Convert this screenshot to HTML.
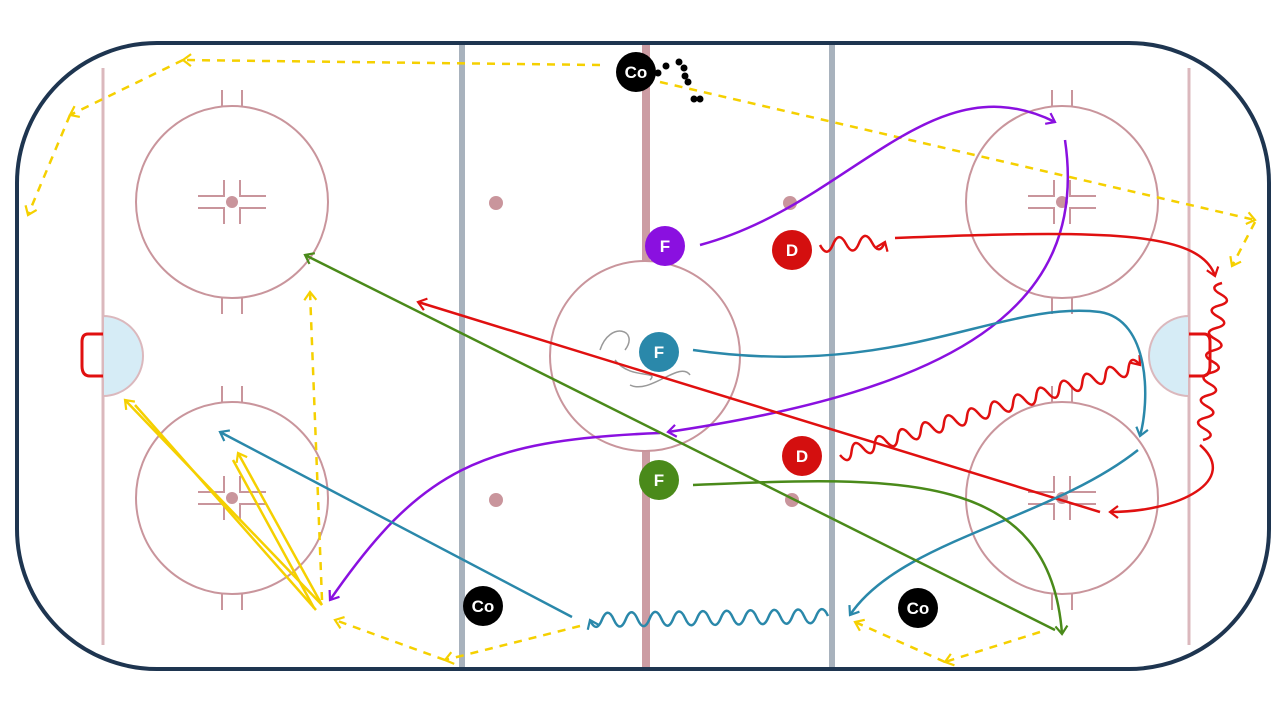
<!DOCTYPE html>
<html><head><meta charset="utf-8"><style>
html,body{margin:0;padding:0;background:#fff;width:1280px;height:720px;overflow:hidden}
text{font-family:"Liberation Sans",sans-serif;font-weight:bold;fill:#fff;text-anchor:middle}
</style></head><body>
<svg id="s" width="1280" height="720" viewBox="0 0 1280 720" xmlns="http://www.w3.org/2000/svg">
<defs>
<marker id="ap" markerWidth="14" markerHeight="14" refX="10" refY="7" orient="auto" markerUnits="userSpaceOnUse"><path d="M2,1 L10,7 L2,13" fill="none" stroke="#8a10e0" stroke-width="2.2"/></marker>
<marker id="ar" markerWidth="14" markerHeight="14" refX="10" refY="7" orient="auto" markerUnits="userSpaceOnUse"><path d="M2,1 L10,7 L2,13" fill="none" stroke="#e01010" stroke-width="2.2"/></marker>
<marker id="at" markerWidth="14" markerHeight="14" refX="10" refY="7" orient="auto" markerUnits="userSpaceOnUse"><path d="M2,1 L10,7 L2,13" fill="none" stroke="#2a88aa" stroke-width="2.2"/></marker>
<marker id="ag" markerWidth="14" markerHeight="14" refX="10" refY="7" orient="auto" markerUnits="userSpaceOnUse"><path d="M2,1 L10,7 L2,13" fill="none" stroke="#4a8a1a" stroke-width="2.2"/></marker>
<marker id="ay" markerWidth="14" markerHeight="14" refX="10" refY="7" orient="auto" markerUnits="userSpaceOnUse"><path d="M2,1 L10,7 L2,13" fill="none" stroke="#f5d000" stroke-width="2.2"/></marker>
</defs>
<rect x="17" y="43" width="1252" height="626" rx="140" fill="#fff" stroke="#1e3550" stroke-width="4"/>
<line x1="103" y1="68" x2="103" y2="645" stroke="#dbb8bd" stroke-width="3"/>
<line x1="1189" y1="68" x2="1189" y2="645" stroke="#dbb8bd" stroke-width="3"/>
<line x1="462" y1="45" x2="462" y2="667" stroke="#a8b2bd" stroke-width="6"/>
<line x1="832" y1="45" x2="832" y2="667" stroke="#a8b2bd" stroke-width="6"/>
<line x1="646" y1="45" x2="646" y2="667" stroke="#cc9ca3" stroke-width="8"/>
<path d="M103,316 A40,40 0 0 1 103,396 Z" fill="#d6ecf6" stroke="#dbb8bd" stroke-width="2"/>
<path d="M1189,316 A40,40 0 0 0 1189,396 Z" fill="#d6ecf6" stroke="#dbb8bd" stroke-width="2"/>
<path d="M103,334 H88 Q82,334 82,342 V366 Q82,376 90,376 H103" fill="none" stroke="#e01010" stroke-width="3"/>
<path d="M1189,334 H1204 Q1210,334 1210,342 V366 Q1210,376 1202,376 H1189" fill="none" stroke="#e01010" stroke-width="3"/>
<g id="circles" fill="none" stroke="#c9959c" stroke-width="2"></g>
<circle cx="645" cy="356" r="95" fill="#fff" stroke="#c9959c" stroke-width="2"/>
<g fill="#c9959c"><circle cx="496" cy="203" r="7"/><circle cx="790" cy="203" r="7"/><circle cx="496" cy="500" r="7"/><circle cx="792" cy="500" r="7"/></g>
<path d="M600,350 C610,320 640,330 625,350 M615,360 C630,380 660,370 650,380 M630,385 C650,395 680,360 690,375" fill="none" stroke="#999" stroke-width="1.5"/>
<g id="lines" fill="none" stroke-width="2.5"></g>
<g id="players"></g>
</svg>
<script>
const NS="http://www.w3.org/2000/svg";
function el(p,tag,a){const e=document.createElementNS(NS,tag);for(const k in a)e.setAttribute(k,a[k]);document.getElementById(p).appendChild(e);return e;}
[[232,202],[232,498],[1062,202],[1062,498]].forEach(([x,y])=>{
 el('circles','circle',{cx:x,cy:y,r:96});
 let d=`M${x-10},${y-95} V${y-112} M${x+10},${y-95} V${y-112} M${x-10},${y+95} V${y+112} M${x+10},${y+95} V${y+112} `;
 [[-1,-1],[1,-1],[-1,1],[1,1]].forEach(([sx,sy])=>{d+=`M${x+sx*34},${y+sy*6} H${x+sx*8} V${y+sy*22} `;});
 el('circles','path',{d});
 el('circles','circle',{cx:x,cy:y,r:6,fill:'#c9959c',stroke:'none'});
});
function wave(x1,y1,x2,y2,amp,wl){const dx=x2-x1,dy=y2-y1,L=Math.hypot(dx,dy),ux=dx/L,uy=dy/L,nx=-uy,ny=ux;let d=`M${x1},${y1}`;const n=Math.max(1,Math.round(L/wl));for(let i=0;i<n;i++){const s=L*(i+0.5)/n,e=L*(i+1)/n,sg=i%2?-1:1;d+=` Q${x1+ux*s+nx*amp*sg*2},${y1+uy*s+ny*amp*sg*2} ${x1+ux*e},${y1+uy*e}`;}return d;}
const C={p:'#8a10e0',r:'#e01010',t:'#2a88aa',g:'#4a8a1a',y:'#f5d000'};
function L(d,c,dash,arrow=true){const a={d,stroke:C[c]};if(dash)a['stroke-dasharray']='8 7';if(arrow)a['marker-end']=`url(#a${c})`;el('lines','path',a);}
L('M600,65 L183,60','y',1);
L('M183,60 L70,115','y',1);
L('M70,115 L28,215','y',1);
L('M660,82 L1255,220','y',1);
L('M1255,222 L1232,266','y',1);
L('M322,600 L310,292','y',1);
L('M580,626 L445,660','y',1);
L('M445,660 L335,620','y',1);
L('M1040,632 L945,662','y',1);
L('M945,662 L855,622','y',1);
L('M322,605 L125,400','y',0);L('M316,610 L135,405','y',0,false);
L('M322,605 L238,453','y',0);L('M314,608 L233,460','y',0,false);
L('M700,245 C850,205 930,60 1055,122','p');
L('M1065,140 C1090,310 950,390 668,432','p');
L('M660,433 C480,440 420,470 330,600','p');
L(wave(820,245,885,242,7,13),'r');
L('M895,238 C1100,230 1200,230 1215,276','r');
L(wave(1222,283,1203,440,7,11),'r',0,false);
L('M1200,445 C1240,480 1180,512 1110,512','r');
L('M1100,512 L418,302','r');
L(wave(840,455,1140,365,7,12),'r');
L('M693,350 C900,380 1000,300 1100,312 C1150,320 1150,400 1140,436','t');
L('M1138,450 C1050,520 900,540 850,615','t');
L(wave(828,616,590,620,7,12),'t');
L('M572,617 L220,432','t');
L('M693,485 C900,476 1050,470 1062,634','g');
L('M1055,630 L305,255','g');
function P(x,y,c,t,r=20){el('players','circle',{cx:x,cy:y,r,fill:c});const e=el('players','text',{x,y:y+6,'font-size':17});e.textContent=t;}
P(636,72,'#000','Co');P(483,606,'#000','Co');P(918,608,'#000','Co');
[[666,66],[679,62],[684,68],[685,76],[688,82],[694,99],[700,99],[658,73]].forEach(([x,y])=>el('players','circle',{cx:x,cy:y,r:3.5,fill:'#000'}));
P(665,246,'#8a10e0','F');P(792,250,'#d40f0f','D');P(659,352,'#2a88aa','F');P(802,456,'#d40f0f','D');P(659,480,'#4a8a1a','F');
</script>
</body></html>
